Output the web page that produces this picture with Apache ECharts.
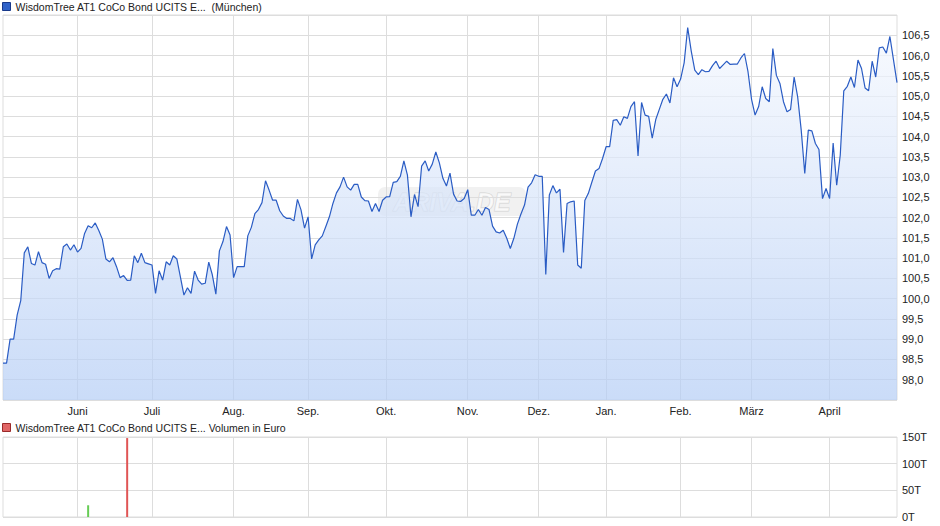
<!DOCTYPE html>
<html><head><meta charset="utf-8">
<script src="https://cdn.jsdelivr.net/npm/echarts@6/dist/echarts.min.js"></script>
<style>html,body{margin:0;padding:0;background:#fff}#c{width:940px;height:526px}</style>
</head><body><div id="c"></div>
<script>
// Daily prices (trading days)
const prices = [
  98.41, 98.41, 99.0, 99.0, 99.6, 99.95, 101.13, 101.28, 100.87, 100.83,
  101.16, 100.89, 100.85, 100.5, 100.69, 100.74, 100.73, 101.28, 101.35, 101.2,
  101.33, 101.15, 101.24, 101.61, 101.8, 101.75, 101.87, 101.68, 101.47, 100.98,
  100.91, 101.01, 100.79, 100.52, 100.57, 100.45, 100.46, 101.06, 100.89, 101.12,
  100.89, 100.86, 100.83, 100.13, 100.69, 100.46, 100.91, 100.83, 101.06, 100.98,
  100.54, 100.09, 100.27, 100.13, 100.68, 100.46, 100.36, 100.38, 100.9, 100.59,
  100.11, 101.18, 101.41, 101.78, 101.57, 100.52, 100.79, 100.79, 100.79, 101.55,
  101.76, 102.1, 102.2, 102.37, 102.91, 102.68, 102.43, 102.43, 102.17, 102.04,
  101.98, 101.98, 101.92, 102.45, 102.19, 101.74, 102.02, 100.98, 101.33, 101.45,
  101.55, 101.78, 102.02, 102.35, 102.61, 102.76, 103.0, 102.76, 102.68, 102.82,
  102.82, 102.51, 102.42, 102.41, 102.15, 102.35, 102.15, 102.43, 102.51, 102.52,
  102.87, 102.89, 103.02, 103.4, 103.05, 102.02, 102.57, 102.27, 103.27, 103.4,
  103.15, 103.32, 103.62, 103.35, 102.97, 102.78, 103.1, 102.58, 102.41, 102.4,
  102.47, 102.69, 102.06, 102.06, 102.2, 102.06, 102.25, 102.2, 101.79, 101.65,
  101.62, 101.69, 101.49, 101.24, 101.49, 101.84, 102.09, 102.31, 102.75, 102.86,
  103.06, 103.02, 103.02, 100.6, 102.56, 102.79, 102.61, 102.7, 101.14, 102.35,
  102.39, 102.41, 100.83, 100.75, 102.42, 102.6, 102.88, 103.15, 103.21, 103.46,
  103.75, 103.75, 104.4, 104.42, 104.28, 104.49, 104.45, 104.74, 104.86, 103.52,
  104.84, 104.53, 104.5, 103.96, 104.42, 104.67, 104.92, 105.05, 104.83, 105.45,
  105.23, 105.42, 105.82, 106.69, 106.11, 105.64, 105.53, 105.65, 105.6, 105.61,
  105.75, 105.86, 105.68, 105.77, 105.86, 105.78, 105.79, 105.79, 105.94, 106.05,
  105.6, 104.92, 104.53, 104.74, 105.23, 104.94, 104.86, 106.17, 105.51, 105.31,
  104.86, 104.61, 104.67, 105.47, 104.98, 104.16, 103.09, 104.16, 104.14, 103.83,
  103.68, 102.47, 102.72, 102.47, 103.84, 102.8, 103.54, 105.13, 105.24, 105.47,
  105.21, 105.89, 105.68, 105.2, 105.13, 105.86, 105.47, 106.19, 106.21, 106.06,
  106.47, 105.9, 105.33
];
// Month labels and the trading-day index where each month starts
const monthLabels = ['Juni', 'Juli', 'Aug.', 'Sep.', 'Okt.', 'Nov.', 'Dez.', 'Jan.', 'Feb.', 'März', 'April'];
const monthStart = [21, 42, 65, 86, 108, 131, 151, 170, 191, 211, 233];
// Volume (Euro) on the days that traded
const volumeDay = [24, 35];
const volumeValue = [22000, 148000];
// Axis ticks
const priceTicks = { min: 97.5, max: 107, step: 0.5 };
const volumeTicks = { min: 0, max: 150000, step: 50000 };

const priceName = 'WisdomTree AT1 CoCo Bond UCITS E...\u00a0\u00a0(München)';
const volName = 'WisdomTree AT1 CoCo Bond UCITS E... Volumen in Euro';

const cats = prices.map((_, i) => String(i));
const monthMap = {};
monthStart.forEach((idx, k) => { monthMap[idx] = monthLabels[k]; });
const isMonth = (index) => monthMap[index] !== undefined;

const volData = prices.map(() => null);
volumeDay.forEach((d, k) => {
  const up = prices[d] >= prices[d - 1];
  volData[d] = { value: volumeValue[k], itemStyle: { color: up ? '#66cc55' : '#e05555' } };
});

const FONT = 'Liberation Sans, Arial, sans-serif';
const GRID = '#dddddd';
const TXT = '#222222';

const chart = echarts.init(document.getElementById('c'), null, { renderer: 'svg' });
chart.setOption({
  animation: false,
  backgroundColor: '#ffffff',
  textStyle: { fontFamily: FONT },
  legend: [
    {
      data: [priceName], left: 2, top: 1, padding: 0, icon: 'rect', itemWidth: 8, itemHeight: 8,
      itemStyle: { color: '#2f62c8', borderColor: '#17388a', borderWidth: 1 },
      textStyle: { fontFamily: FONT, fontSize: 10.5, color: TXT }, selectedMode: false
    },
    {
      data: [volName], left: 2, top: 422, padding: 0, icon: 'rect', itemWidth: 8, itemHeight: 8,
      itemStyle: { color: '#e06666', borderColor: '#9a2a2a', borderWidth: 1 },
      textStyle: { fontFamily: FONT, fontSize: 10.5, color: TXT }, selectedMode: false
    }
  ],
  grid: [
    { left: 3, right: 43, top: 15, bottom: 126, show: true, borderColor: GRID, borderWidth: 1, outerBoundsMode: 'none', containLabel: false },
    { left: 3, right: 43, top: 437, bottom: 9, show: true, borderColor: GRID, borderWidth: 1, outerBoundsMode: 'none', containLabel: false }
  ],
  xAxis: [
    {
      type: 'category', gridIndex: 0, data: cats, boundaryGap: false,
      axisLine: { show: false }, axisTick: { show: false },
      axisLabel: {
        interval: (index) => isMonth(index), formatter: (v, i) => monthMap[i] || '',
        color: TXT, fontSize: 11, fontFamily: FONT, margin: 5
      },
      splitLine: { show: true, interval: (index) => isMonth(index), lineStyle: { color: GRID, width: 1 } }
    },
    {
      type: 'category', gridIndex: 1, data: cats, boundaryGap: false,
      axisLine: { show: false }, axisTick: { show: false }, axisLabel: { show: false },
      splitLine: { show: true, interval: (index) => isMonth(index), lineStyle: { color: GRID, width: 1 } }
    }
  ],
  yAxis: [
    {
      type: 'value', gridIndex: 0, position: 'right', scale: true,
      min: priceTicks.min, max: priceTicks.max, interval: priceTicks.step,
      axisLine: { show: false }, axisTick: { show: false },
      axisLabel: {
        color: TXT, fontSize: 11, fontFamily: FONT, margin: 5, showMinLabel: false, showMaxLabel: false,
        formatter: (v) => (v <= priceTicks.min || v >= priceTicks.max) ? '' : v.toFixed(1).replace('.', ',')
      },
      splitLine: { show: true, lineStyle: { color: GRID, width: 1 } }
    },
    {
      type: 'value', gridIndex: 1, position: 'right',
      min: volumeTicks.min, max: volumeTicks.max, interval: volumeTicks.step,
      axisLine: { show: false }, axisTick: { show: false },
      axisLabel: { color: TXT, fontSize: 11, fontFamily: FONT, margin: 5, formatter: (v) => Math.round(v / 1000) + 'T' },
      splitLine: { show: true, lineStyle: { color: GRID, width: 1 } }
    }
  ],
  graphic: [{
    type: 'group', left: 378, top: 187, z: 2, silent: true,
    children: [
      { type: 'rect', shape: { x: 0, y: 0, width: 148, height: 29, r: 7 }, style: { fill: 'rgba(190,190,190,0.22)' } },
      { type: 'text', style: { x: 74, y: 15, text: 'ARIVA.DE', align: 'center', verticalAlign: 'middle',
        font: 'italic bold 25px ' + FONT, fill: 'rgba(255,255,255,0.6)', stroke: 'rgba(170,170,170,0.45)', lineWidth: 1 } }
    ]
  }],
  series: [
    {
      name: 'area', type: 'line', xAxisIndex: 0, yAxisIndex: 0, data: prices, z: 1,
      symbol: 'none', silent: true, lineStyle: { width: 0, opacity: 0 },
      areaStyle: {
        origin: 'start',
        color: new echarts.graphic.LinearGradient(0, 0, 0, 1, [
          { offset: 0, color: '#f5f8fe' }, { offset: 1, color: '#b4cdf5' }
        ])
      }
    },
    {
      name: priceName, type: 'line', xAxisIndex: 0, yAxisIndex: 0, data: prices, z: 3,
      symbol: 'none', color: '#2f62c8', lineStyle: { color: '#2a5cc4', width: 1.2 }
    },
    {
      name: volName, type: 'bar', xAxisIndex: 1, yAxisIndex: 1, data: volData, barWidth: 2,
      color: '#e06666', z: 3
    }
  ]
});
</script>
</body></html>
